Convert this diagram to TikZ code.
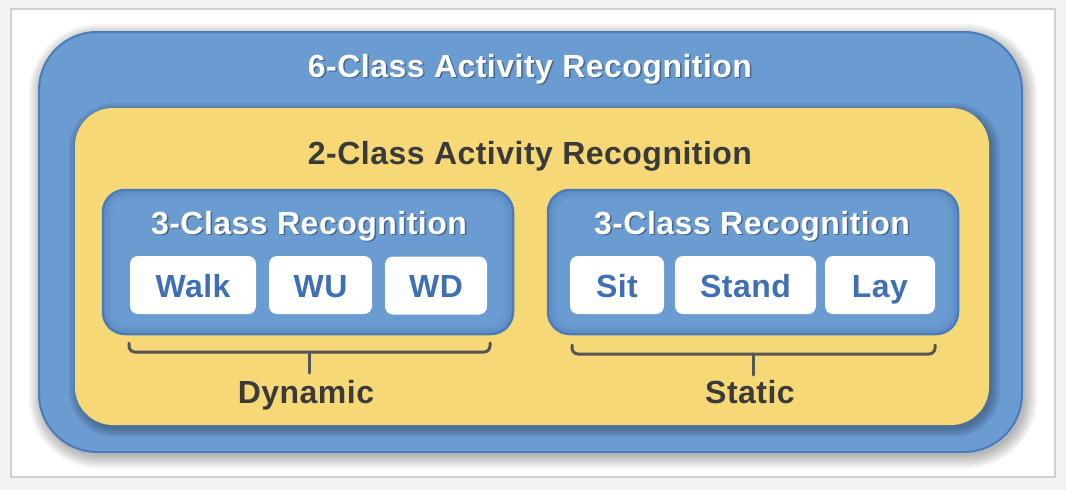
\documentclass[tikz,border=0pt]{standalone}
\usepackage{fontspec}
\setmainfont{Liberation Sans}
\newfontfamily\titlefont[LetterSpace=1.5]{Liberation Sans}
\usetikzlibrary{calc}
\definecolor{bgcol}{HTML}{F2F3F3}
\definecolor{panelborder}{HTML}{D0D0D0}
\definecolor{bluefill}{HTML}{6A9BD1}
\definecolor{blueline}{HTML}{4A7BBA}
\definecolor{bluedark}{HTML}{3B65A0}
\definecolor{yellowfill}{HTML}{F7D877}
\definecolor{itemblue}{HTML}{3E70B3}
\definecolor{darktext}{HTML}{3A3A3A}
\definecolor{bracecol}{HTML}{555555}
\tikzset{
  bigfont/.style={font=\titlefont\fontsize{32}{36}\selectfont\bfseries},
  outerbox/.style={draw=blueline, line width=2pt, fill=bluefill, rounded corners=58pt,
    inner sep=0pt, minimum width=983pt, minimum height=420pt},
  yellowbox/.style={draw=none, fill=yellowfill, rounded corners=38pt,
    inner sep=0pt, minimum width=914pt, minimum height=317pt},
  groupbox/.style={draw=blueline, line width=2.5pt, fill=bluefill, rounded corners=22pt,
    inner sep=0pt, minimum width=410pt, minimum height=144pt},
  itembox/.style={draw=none, fill=white, rounded corners=8pt, inner sep=0pt,
    minimum height=58pt, text height=24pt, text depth=0pt, text=itemblue, bigfont},
  whitetitle/.style={bigfont, text=white, anchor=base, inner sep=0pt},
  titleshadow/.style={bigfont, text=black, opacity=0.35, anchor=base, inner sep=0pt},
  darktitle/.style={bigfont, text=darktext, anchor=base, inner sep=0pt},
  bracepath/.style={draw=bracecol, line width=3pt, rounded corners=6pt, line cap=round},
  softshadow/.style={fill=black, opacity=0.045, draw=none},
}
\begin{document}
\begin{tikzpicture}[x=1pt,y=-1pt]
% background and panel
\fill[bgcol] (0,0) rectangle (1066,490);
\useasboundingbox (0,0) rectangle (1066,490);
\draw[panelborder, line width=1.5pt, fill=white] (11,9) rectangle (1055,477);

% outer shadow
\foreach \i in {0,2,...,12}{
  \fill[softshadow, rounded corners=58pt+\i pt] (39-\i+2,32-\i+4) rectangle (1022+\i+3,452+\i+4);
}
\node[outerbox] (outer) at (530.5,242) {};

% yellow shadow
\foreach \i in {0,2,...,8}{
  \fill[softshadow, opacity=0.06, rounded corners=38pt+\i pt] (75-\i+2,108-\i+3) rectangle (989+\i+3,425+\i+4);
}
\node[yellowbox] (yellow) at (532,266.5) {};

% group boxes with soft inner shadow
\node[groupbox] (gleft) at (308,262) {};
\node[groupbox] (gright) at (753,262) {};
\foreach \c in {308,753}{
  \foreach \d/\o in {2.5/0.22,4.5/0.14,6.5/0.08,8.5/0.04}{
    \draw[bluedark, opacity=\o, line width=2pt, rounded corners=22pt-\d pt]
      (\c-205+\d,190+\d) rectangle (\c+205-\d,334-\d);
  }
}

% titles
\node[titleshadow] (t6s) at (531.5,78.5) {6-Class Activity Recognition};
\node[whitetitle] (t6) at (530,77) {6-Class Activity Recognition};
\node[darktitle] (t2) at (530,164) {2-Class Activity Recognition};
\node[titleshadow] (t3ls) at (310.5,235.5) {3-Class Recognition};
\node[whitetitle] (t3l) at (309,234) {3-Class Recognition};
\node[titleshadow] (t3rs) at (753.5,235.5) {3-Class Recognition};
\node[whitetitle] (t3r) at (752,234) {3-Class Recognition};

% items
\node[itembox, minimum width=126pt] (walk) at (193,285) {Walk};
\node[itembox, minimum width=103pt] (wu) at (320.5,285) {WU};
\node[itembox, minimum width=102pt] (wd) at (436,285.5) {WD};
\node[itembox, minimum width=94pt] (sit) at (617,285) {Sit};
\node[itembox, minimum width=141pt] (stand) at (745.5,285) {Stand};
\node[itembox, minimum width=110pt] (lay) at (880,285) {Lay};

% labels
\node[darktitle] (dyn) at (306,403) {Dynamic};
\node[darktitle] (stat) at (750,403) {Static};

% braces
\coordinate (bl1) at (129,343);
\coordinate (bl2) at (490,343);
\coordinate (bls) at (309,373);
\coordinate (br1) at (572,345);
\coordinate (br2) at (935,345);
\coordinate (brs) at (753,375);
\draw[bracepath] (bl1) -- (129,352) -- (490,352) -- (bl2);
\draw[bracepath] (309,352) -- (bls);
\draw[bracepath] (br1) -- (572,354) -- (935,354) -- (br2);
\draw[bracepath] (753,354) -- (brs);
\end{tikzpicture}
\end{document}
